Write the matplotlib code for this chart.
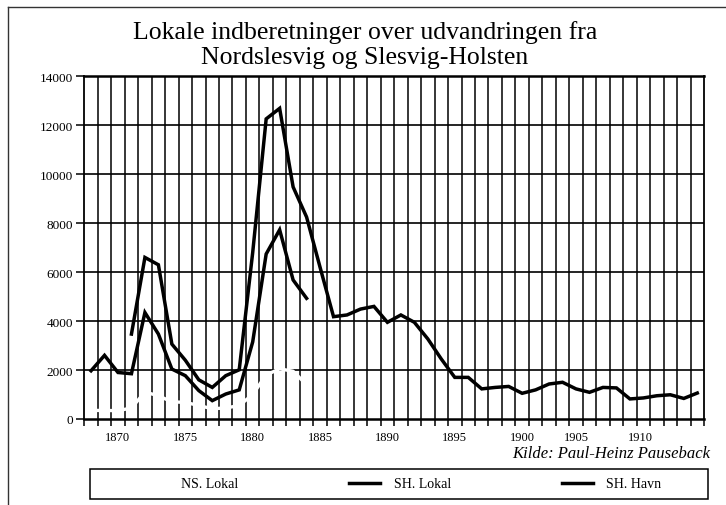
import matplotlib
matplotlib.use('Agg')
import matplotlib.pyplot as plt
from matplotlib.patches import Rectangle
from matplotlib.lines import Line2D
from matplotlib.ticker import FixedLocator

# ---------------- data ----------------
title = "Lokale indberetninger over udvandringen fra\nNordslesvig og Slesvig-Holsten"
source = "Kilde: Paul-Heinz Pauseback"

ns_lokal_years = list(range(1868, 1885))
ns_lokal = [350, 350, 340, 450, 1100, 950, 700, 680, 550, 420, 450, 550,
            1000, 1800, 2050, 1950, 1400]

sh_lokal_years = list(range(1868, 1885))
sh_lokal = [1970, 2600, 1900, 1850, 4350, 3470, 2040, 1770, 1160, 750, 1020,
            1190, 3150, 6740, 7730, 5680, 4930]

sh_havn_years = list(range(1871, 1914))
sh_havn = [3470, 6600, 6300, 3060, 2400, 1600, 1290, 1770, 2010, 6800, 12260,
           12690, 9480, 8250, 6200, 4180, 4250, 4490, 4600, 3950, 4250, 3950,
           3270, 2450, 1700, 1700, 1230, 1290, 1330, 1050, 1190, 1430, 1500,
           1230, 1090, 1290, 1270, 820, 860, 950, 990, 840, 1060]

series_names = ["NS. Lokal", "SH. Lokal", "SH. Havn"]
year_labels = ["1870", "1875", "1880", "1885", "1890", "1895", "1900", "1905", "1910"]
y_ticks = [0, 2000, 4000, 6000, 8000, 10000, 12000, 14000]

# ---------------- layout ----------------
W, H = 726, 506
label_pos = [1870, 1875, 1880, 1885, 1890, 1895, 1900, 1904, 1908.8]
first_year, last_year = 1868, 1913

plt.rcParams['font.family'] = ['Liberation Serif', 'DejaVu Serif']

fig = plt.figure(figsize=(W / 100, H / 100), dpi=100)
fig.patch.set_facecolor('white')

ax_l, ax_r, ax_t, ax_b = 84.3, 704, 77.3, 420
ax = fig.add_axes([ax_l / W, 1 - ax_b / H, (ax_r - ax_l) / W, (ax_b - ax_t) / H])

ax.set_xlim(first_year - 0.5, last_year + 0.5)
ax.set_ylim(0, 14000)

# grid
for b in range(first_year + 1, last_year + 1):
    ax.axvline(b - 0.5, color='black', lw=1.1, zorder=1)
for yv in y_ticks[1:-1]:
    ax.axhline(yv, color='black', lw=1.2, zorder=1)

# series
ax.plot(ns_lokal_years, ns_lokal, color='white', lw=2.4, zorder=3,
        label=series_names[0])
ax.plot(sh_lokal_years, sh_lokal, color='black', lw=2.5, zorder=4,
        solid_joinstyle='miter', label=series_names[1])
ax.plot(sh_havn_years, sh_havn, color='black', lw=2.5, zorder=4,
        solid_joinstyle='miter', label=series_names[2])

# spines
for s in ['top', 'bottom']:
    ax.spines[s].set_linewidth(1.8)
for s in ['left', 'right']:
    ax.spines[s].set_linewidth(1.3)

# ticks
ax.yaxis.set_major_locator(FixedLocator(y_ticks))
ax.set_yticklabels([str(v) for v in y_ticks])
ax.tick_params(axis='y', direction='out', length=5.5, width=1.1, pad=2.5,
               labelsize=9.5)
ax.xaxis.set_major_locator(FixedLocator(label_pos))
ax.set_xticklabels(year_labels)
ax.xaxis.set_minor_locator(FixedLocator([b - 0.5 for b in range(first_year, last_year + 2)]))
ax.tick_params(axis='x', which='major', length=0, pad=9, labelsize=9)
ax.tick_params(axis='x', which='minor', direction='out', length=5, width=1.1)

# title and source
fig.text(365 / W, 1 - 45 / H, title, ha='center', va='center', fontsize=18.5,
         linespacing=1.2)
fig.text(710 / W, 1 - 454 / H, source, ha='right', va='center', fontsize=12,
         style='italic')

# legend box
fig.patches.append(Rectangle((90 / W, 1 - 500 / H), (708 - 90) / W, 30 / H,
                             transform=fig.transFigure, fill=False,
                             edgecolor='black', lw=1.1))
handles = [Line2D([], [], color='white', lw=2.4),
           Line2D([], [], color='black', lw=2.5),
           Line2D([], [], color='black', lw=2.5)]
fig.legend(handles, series_names, loc='center', ncol=3, frameon=False,
           bbox_to_anchor=(399 / W, 1 - 485 / H), fontsize=10,
           handlelength=2.2, handletextpad=1.0, columnspacing=8.0)

# outer frame of the scan
fig.add_artist(Line2D([8 / W, 1], [1 - 8 / H, 1 - 8 / H], transform=fig.transFigure,
                      color='#333333', lw=1.0))
fig.add_artist(Line2D([8 / W, 8 / W], [0, 1 - 8 / H], transform=fig.transFigure,
                      color='#333333', lw=1.0))

fig.savefig('out.png', dpi=100)
